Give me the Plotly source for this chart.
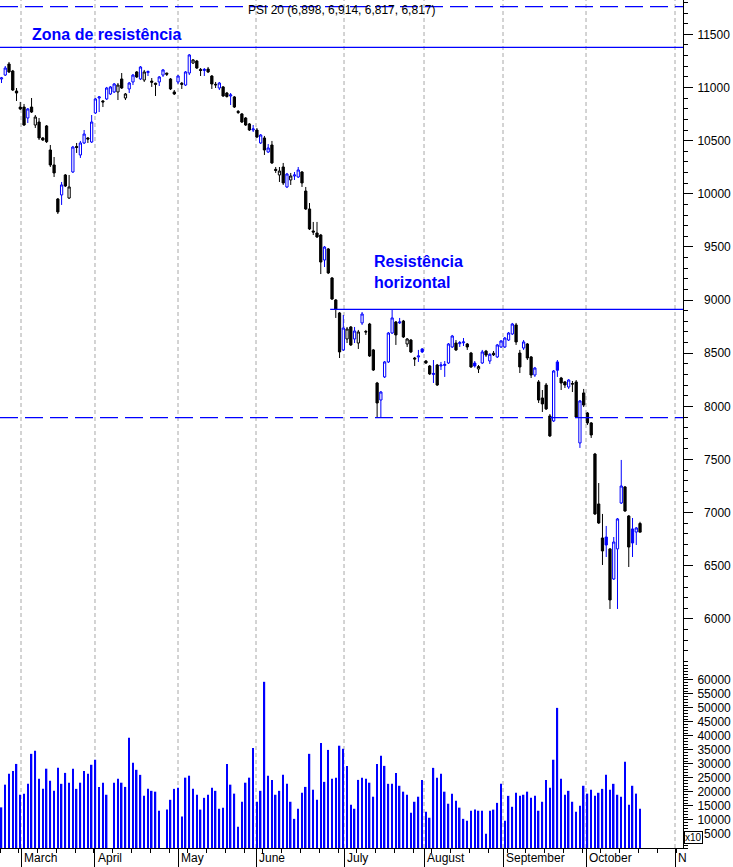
import plotly.graph_objects as go

# ---------------- data (daily PSI 20 candles) ----------------
open_ = [11080, 11117, 11221, 11155, 10967, 10816, 10816, 10713, 10816, 10647,
         10675, 10525, 10638, 10412, 10271, 9951, 9989, 10177, 9960, 10205,
         10445, 10365, 10478, 10525, 10487, 10760, 10901, 10873, 10892, 10939,
         10958, 10958, 11080, 10901, 10986, 11052, 11146, 11080, 11070, 11140,
         11060, 11040, 11052, 11117, 11135, 11080, 10958, 11052, 11040, 11023,
         11136, 11230, 11249, 11170, 11160, 11174, 11108, 11030, 10995, 11005,
         10948, 10920, 10911, 10775, 10751, 10713, 10657, 10600, 10600, 10478,
         10525, 10393, 10459, 10230, 10177, 10252, 10064, 10130, 10167, 10158,
         10205, 10026, 9857, 9650, 9631, 9612, 9377, 9481, 9208, 9001,
         8879, 8531, 8634, 8747, 8634, 8596, 8785, 8705, 8775, 8531,
         8220, 8060, 8277, 8418, 8690, 8794, 8785, 8803, 8587, 8624,
         8455, 8465, 8540, 8427, 8380, 8300, 8389, 8380, 8385, 8408,
         8559, 8596, 8590, 8598, 8587, 8502, 8408, 8352, 8408, 8520,
         8427, 8500, 8465, 8559, 8559, 8624, 8681, 8766, 8502, 8549,
         8587, 8465, 8295, 8230, 8079, 8201, 7910, 7863, 8418, 8267,
         8230, 8182, 8215, 8230, 7656, 8126, 7938, 7844, 7552, 7082,
         6762, 6771, 6659, 6376, 6659, 7091, 7242, 6969, 6847, 6818,
         6898]
high = [11099, 11202, 11240, 11165, 10995, 10864, 10845, 10807, 10901, 10741,
        10713, 10534, 10647, 10459, 10346, 9960, 10111, 10186, 10177, 10450,
        10478, 10497, 10600, 10534, 10741, 10901, 10920, 10882, 11005, 11014,
        11042, 11042, 11136, 10948, 11052, 11127, 11155, 11202, 11165, 11160,
        11089, 11045, 11108, 11174, 11140, 11089, 10976, 11117, 11052, 11155,
        11315, 11268, 11259, 11183, 11183, 11193, 11117, 11052, 11052, 11014,
        10958, 10948, 10920, 10788, 10760, 10722, 10666, 10647, 10619, 10562,
        10544, 10468, 10497, 10252, 10252, 10290, 10196, 10196, 10205, 10252,
        10214, 10064, 9913, 9735, 9735, 9622, 9509, 9490, 9217, 9010,
        8888, 8860, 8747, 8756, 8747, 8719, 8888, 8719, 8785, 8540,
        8230, 8145, 8427, 8700, 8907, 8803, 8832, 8813, 8643, 8634,
        8465, 8531, 8549, 8436, 8389, 8436, 8399, 8418, 8427, 8596,
        8672, 8624, 8615, 8643, 8596, 8512, 8427, 8389, 8531, 8531,
        8500, 8521, 8587, 8624, 8653, 8700, 8785, 8785, 8531, 8624,
        8596, 8474, 8371, 8248, 8154, 8220, 7928, 8342, 8436, 8277,
        8239, 8257, 8239, 8248, 8060, 8164, 7947, 7853, 7562, 7279,
        6988, 6875, 6668, 6771, 6950, 7496, 7251, 6978, 6950, 6865,
        6914]
low = [11042, 11108, 11136, 10967, 10873, 10788, 10638, 10666, 10760, 10619,
       10506, 10497, 10478, 10252, 10158, 9810, 9895, 10064, 9951, 10196,
       10384, 10337, 10468, 10478, 10478, 10751, 10769, 10816, 10882, 10929,
       10948, 10882, 10986, 10882, 10948, 11023, 11089, 11070, 11052, 11108,
       11005, 10920, 11014, 11099, 11108, 10976, 10929, 11033, 10986, 11014,
       11117, 11221, 11174, 11108, 11108, 11136, 10986, 10995, 10976, 10911,
       10905, 10835, 10807, 10751, 10666, 10638, 10591, 10581, 10525, 10468,
       10365, 10384, 10280, 10196, 10111, 10083, 10054, 10083, 10130, 10149,
       10064, 9848, 9659, 9612, 9584, 9245, 9311, 9245, 9001, 8832,
       8455, 8521, 8596, 8568, 8596, 8540, 8766, 8672, 8465, 8333,
       7900, 7891, 8267, 8408, 8681, 8578, 8775, 8643, 8559, 8502,
       8380, 8418, 8502, 8399, 8295, 8220, 8192, 8342, 8277, 8399,
       8549, 8521, 8559, 8568, 8531, 8361, 8365, 8314, 8399, 8465,
       8399, 8474, 8455, 8549, 8549, 8615, 8672, 8578, 8314, 8531,
       8436, 8267, 8277, 8032, 7947, 7966, 7712, 7853, 8277, 8154,
       8173, 8164, 8135, 7891, 7609, 7994, 7825, 7703, 6978, 6894,
       6508, 6583, 6094, 6367, 6094, 7082, 7007, 6489, 6583, 6696,
       6817]
close = [11090, 11183, 11146, 10976, 10948, 10798, 10647, 10798, 10769, 10722,
         10525, 10506, 10490, 10271, 10196, 9829, 10083, 10073, 10064, 10440,
         10436, 10478, 10562, 10515, 10675, 10892, 10911, 10864, 10995, 11005,
         11033, 11023, 10995, 10939, 11042, 11117, 11099, 11193, 11146, 11150,
         11050, 11030, 11099, 11165, 11125, 10986, 10939, 11108, 11030, 11146,
         11306, 11259, 11183, 11160, 11170, 11146, 11033, 11025, 11042, 10920,
         10915, 10930, 10816, 10765, 10675, 10647, 10600, 10610, 10534, 10553,
         10412, 10431, 10290, 10220, 10214, 10102, 10186, 10167, 10177, 10224,
         10102, 9857, 9669, 9640, 9594, 9358, 9499, 9255, 9010, 8916,
         8512, 8737, 8728, 8578, 8709, 8700, 8869, 8700, 8474, 8342,
         8032, 8135, 8418, 8690, 8832, 8672, 8794, 8653, 8634, 8512,
         8446, 8474, 8512, 8408, 8305, 8310, 8201, 8389, 8395, 8587,
         8662, 8531, 8600, 8606, 8559, 8371, 8380, 8375, 8512, 8483,
         8490, 8485, 8578, 8615, 8643, 8690, 8775, 8606, 8371, 8606,
         8455, 8295, 8361, 8060, 8023, 7976, 7722, 8333, 8340, 8220,
         8201, 8248, 8210, 7900, 8051, 8013, 7844, 7731, 6988, 6903,
         6640, 6696, 6179, 6724, 6941, 7251, 7016, 6677, 6715, 6856,
         6817]
volume = [14500, 22600, 26500, 27500, 30000, 19000, 19400, 22900, 33600, 34700,
          24700, 21100, 28300, 24000, 20400, 28600, 22900, 26800, 23300, 28300,
          21100, 23300, 27500, 26500, 29700, 31500, 21800, 23300, 19000, 0,
          23300, 24700, 23300, 21800, 39300, 30400, 27900, 26100, 18600, 21100,
          20400, 20100, 13300, 0, 13700, 17200, 21100, 21500, 11200, 25100,
          25800, 21100, 19000, 13700, 17900, 19000, 21500, 20400, 14000, 14400,
          30000, 22600, 19400, 7600, 16500, 23300, 25100, 35700, 16500, 20400,
          59300, 25800, 24300, 19000, 20400, 26100, 22900, 16500, 10400, 14000,
          19700, 21800, 33600, 20800, 17200, 37500, 23600, 35000, 24700, 25100,
          36500, 35400, 29300, 15400, 14000, 24300, 25100, 24700, 23300, 18300,
          30000, 32900, 29300, 22900, 22900, 26800, 22200, 20100, 19000, 12600,
          16500, 18300, 24300, 12900, 10800, 28600, 25100, 26500, 20100, 15800,
          19400, 16900, 14400, 10400, 9700, 13300, 13700, 13300, 13300, 5100,
          13300, 13700, 16100, 22900, 9700, 18600, 14700, 19700, 18600, 19000,
          20100, 17900, 18600, 13300, 16500, 24300, 21500, 31500, 50000, 24700,
          19000, 20400, 16500, 12900, 15100, 22200, 19400, 20800, 18600, 19700,
          21100, 26100, 20800, 22900, 19000, 18300, 30800, 15400, 22200, 19400,
          14000]

# axis ticks / labels
price_ticks = list(range(6000, 12000, 500))
volume_ticks = list(range(5000, 65000, 5000))
month_labels = ["March", "April", "May", "June", "July", "August",
                "September", "October", "N"]
month_start = [5.19, 24.89, 46.99, 67.76, 91.19, 112.49, 133.52, 155.62, 179.31]

# drawn levels
top_dashed_level = 11760
zona_level = 11378
resistance_level = 8913
resistance_start = 87.5
support_level = 7894

title_text = "PSI 20 (6,898, 6,914, 6,817, 6,817)"

# ---------------- figure ----------------
BLUE = "#0000ff"
BLACK = "#000000"
FONT = "Liberation Sans, Arial, sans-serif"

n = len(close)
xs = list(range(n))
up = [i == 0 or close[i] >= close[i - 1] for i in xs]


def subset(flag):
    idx = [i for i in xs if up[i] == flag]
    return dict(x=idx,
                open=[open_[i] for i in idx],
                high=[high[i] for i in idx],
                low=[low[i] for i in idx],
                close=[close[i] for i in idx])


fig = go.Figure()
for flag, col in ((True, BLUE), (False, BLACK)):
    fig.add_trace(go.Candlestick(
        **subset(flag),
        xaxis="x", yaxis="y",
        increasing=dict(line=dict(color=col, width=1), fillcolor="white"),
        decreasing=dict(line=dict(color=col, width=1), fillcolor=col),
        whiskerwidth=0, hoverinfo="skip", showlegend=False))

fig.add_trace(go.Bar(x=xs, y=volume, xaxis="x", yaxis="y2", width=0.4,
                     marker=dict(color=BLUE, line=dict(width=0)),
                     hoverinfo="skip", showlegend=False))


def pad(v):
    s = str(v)
    return "\u00a0\u00a0" * (5 - len(s)) + s


x_max = 181.44
axis_common = dict(side="right", anchor="x", showline=True, linecolor=BLACK,
                   linewidth=1, ticks="outside", ticklen=9, tickcolor=BLACK,
                   tickwidth=1, showgrid=False, zeroline=False,
                   tickfont=dict(family=FONT, size=12, color=BLACK),
                   ticklabelstandoff=2, fixedrange=True)

fig.update_layout(
    width=733, height=867,
    margin=dict(l=0, r=50, t=0, b=19),
    paper_bgcolor="white", plot_bgcolor="white",
    showlegend=False,
    boxgap=0.4, boxgroupgap=0,
    font=dict(family=FONT, size=12, color=BLACK),
    xaxis=dict(range=[-0.4, x_max], anchor="y2", showline=True,
               linecolor=BLACK, linewidth=1, ticks="outside", ticklen=19,
               tickcolor=BLACK, tickvals=month_start, showticklabels=False,
               showgrid=False, zeroline=False,
               rangeslider=dict(visible=False),
               minor=dict(tickmode="linear", tick0=4.6, dtick=5, ticklen=4,
                          ticks="outside", tickcolor=BLACK, showgrid=False)),
    yaxis=dict(domain=[0.2158, 1], range=[5567, 11823],
               tickvals=price_ticks, ticktext=[pad(v) for v in price_ticks],
               minor=dict(tick0=0, dtick=100, ticklen=4, ticks="outside",
                          tickcolor=BLACK, showgrid=False),
               **axis_common),
    yaxis2=dict(domain=[0, 0.2158], range=[0, 65300],
                tickvals=volume_ticks, ticktext=[pad(v) for v in volume_ticks],
                minor=dict(tick0=0, dtick=1000, ticklen=4, ticks="outside",
                           tickcolor=BLACK, showgrid=False),
                **axis_common),
)

shapes = []
for m in month_start:
    shapes.append(dict(type="line", xref="x", yref="paper", x0=m, x1=m,
                       y0=0, y1=1, layer="below",
                       line=dict(color="#a8a8a8", width=1, dash="4px,3px")))
shapes.append(dict(type="line", xref="paper", yref="y", x0=0, x1=1,
                   y0=top_dashed_level, y1=top_dashed_level,
                   line=dict(color=BLUE, width=1.3, dash="18px,7px")))
shapes.append(dict(type="line", xref="paper", yref="y", x0=0, x1=1,
                   y0=zona_level, y1=zona_level,
                   line=dict(color=BLUE, width=1.3)))
shapes.append(dict(type="line", xref="x", yref="y", x0=resistance_start,
                   x1=x_max, y0=resistance_level, y1=resistance_level,
                   line=dict(color=BLUE, width=1.3)))
shapes.append(dict(type="line", xref="paper", yref="y", x0=0, x1=1,
                   y0=support_level, y1=support_level,
                   line=dict(color=BLUE, width=1.3, dash="18px,7px")))
fig.update_layout(shapes=shapes)

ann = []
ann.append(dict(xref="paper", yref="paper", x=0.5, y=1 - 10 / 848,
                xanchor="center", yanchor="middle", showarrow=False,
                text=title_text, font=dict(family=FONT, size=12, color=BLACK)))
ann.append(dict(xref="x", yref="y", x=7.6, y=11494, xanchor="left",
                yanchor="middle", showarrow=False,
                text="<b>Zona de resistência</b>",
                font=dict(family=FONT, size=16, color=BLUE)))
ann.append(dict(xref="x", yref="y", x=98.6, y=9264, xanchor="left",
                yanchor="middle", showarrow=False, align="left",
                text="<b>Resistência<br>horizontal</b>",
                font=dict(family=FONT, size=16, color=BLUE)))
for m, lab in zip(month_start, month_labels):
    ann.append(dict(xref="x", yref="paper", x=m, y=-10 / 848, xshift=1,
                    xanchor="left", yanchor="middle", showarrow=False,
                    text=lab, font=dict(family=FONT, size=12, color=BLACK)))
ann.append(dict(xref="paper", yref="y2", x=1, y=3900, xanchor="left",
                yanchor="middle", xshift=1, showarrow=False, text="x10",
                bgcolor="white", bordercolor=BLACK, borderwidth=1, borderpad=0,
                font=dict(family=FONT, size=10, color=BLACK)))
fig.update_layout(annotations=ann)

fig.write_html("out.html",
               config={"displayModeBar": False},
               post_script="document.body.style.margin='0';"
                           "document.body.style.overflow='hidden';")
